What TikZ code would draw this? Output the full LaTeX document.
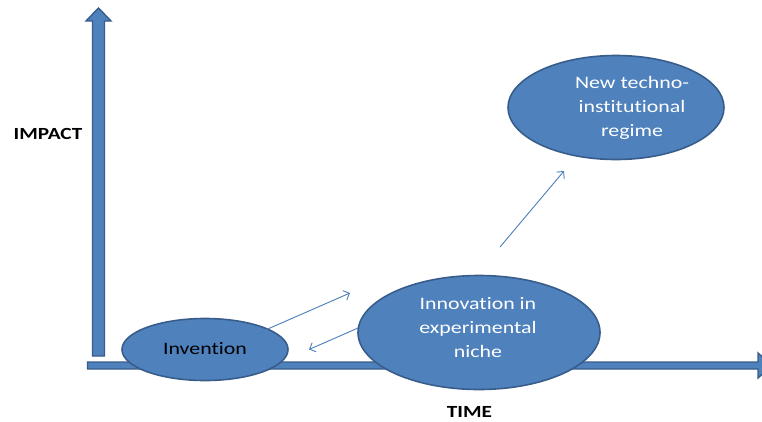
\documentclass[tikz,border=0pt]{standalone}
\usepackage{fontspec}
\setmainfont{Carlito}[FakeStretch=1.25,Ligatures={NoCommon}]
\usetikzlibrary{shapes.geometric,arrows.meta}
\definecolor{fillblue}{HTML}{4F81BD}
\definecolor{edgeblue}{HTML}{385D8A}
\definecolor{lineblue}{HTML}{4A7EBB}
\tikzset{
  blob/.style={ellipse, draw=edgeblue, line width=1.6pt, fill=fillblue, inner sep=0pt},
  axisarrow/.style={draw=edgeblue, line width=1.4pt, fill=fillblue},
  thinarrow/.style={draw=lineblue, line width=0.9pt, -{Straight Barb[length=5pt,width=10pt,line width=0.9pt]}},
  labeltext/.style={font=\fontsize{17.5}{24}\selectfont, align=center, inner sep=0pt},
  axislabel/.style={font=\fontsize{17}{20}\selectfont\bfseries, text=black, inner sep=0pt}
}
\begin{document}
\begin{tikzpicture}[x=1pt,y=-1pt]
\useasboundingbox (0,0) rectangle (762,421);
\clip (0,0) rectangle (762,421);
\fill[white] (0,0) rectangle (762,421);
% vertical axis arrow
\draw[axisarrow] (92.5,356) -- (92.5,21) -- (86,21) -- (98.5,8) -- (111,21) -- (104.5,21) -- (104.5,356) -- cycle;
% horizontal axis arrow
\draw[axisarrow] (87.5,362) -- (758,362) -- (758,353) -- (772,365.5) -- (758,378) -- (758,369) -- (87.5,369) -- cycle;
% ellipses
\node[blob, minimum width=166pt, minimum height=62pt] (inv) at (205,349.5) {};
\node[blob, minimum width=242pt, minimum height=114pt] (innov) at (479,332.5) {};
\node[blob, minimum width=216pt, minimum height=104pt] (regime) at (616,107.5) {};
% texts
\node[labeltext, text=black] (invtext) at (205,349) {Invention};
\node[labeltext, text=white] (innovtext) at (478,328) {Innovation in\\experimental\\niche};
\node[labeltext, text=white] (regimetext) at (632,108) {New techno-\\institutional\\regime};
\node[axislabel] (impact) at (48,133.5) {IMPACT};
\node[axislabel] (time) at (469.5,411.5) {TIME};
% thin arrows
\coordinate (a1s) at (254,335);
\coordinate (a1e) at (350,293);
\coordinate (a2s) at (358,328);
\coordinate (a2e) at (309,349.5);
\coordinate (a3s) at (500,247);
\coordinate (a3e) at (564,171);
\draw[thinarrow] (a1s) -- (a1e);
\draw[thinarrow] (a2s) -- (a2e);
\draw[thinarrow] (a3s) -- (a3e);
\end{tikzpicture}
\end{document}
